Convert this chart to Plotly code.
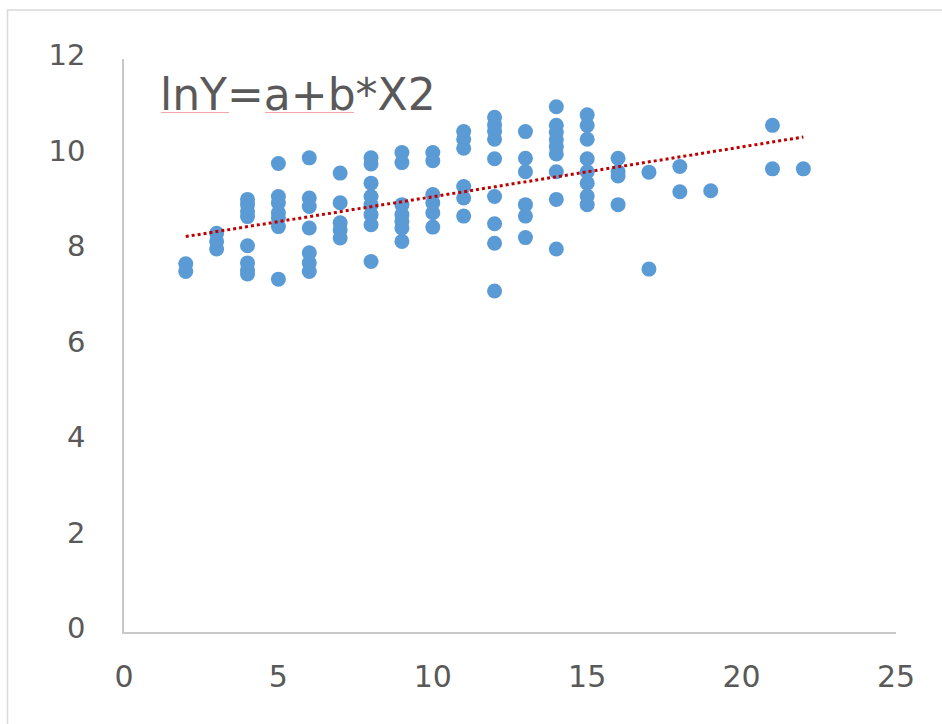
import numpy as np
import plotly.graph_objects as go

# Data (X2 vs lnY)
x2 = [2, 2,
      3, 3, 3,
      4, 4, 4, 4, 4, 4, 4, 4,
      5, 5, 5, 5, 5, 5, 5,
      6, 6, 6, 6, 6, 6, 6,
      7, 7, 7, 7, 7,
      8, 8, 8, 8, 8, 8, 8, 8,
      9, 9, 9, 9, 9, 9, 9,
      10, 10, 10, 10, 10, 10,
      11, 11, 11, 11, 11, 11,
      12, 12, 12, 12, 12, 12, 12, 12, 12,
      13, 13, 13, 13, 13, 13,
      14, 14, 14, 14, 14, 14, 14, 14, 14,
      15, 15, 15, 15, 15, 15, 15, 15,
      16, 16, 16, 16,
      17, 17,
      18, 18,
      19,
      21, 21,
      22]
lny = [7.71, 7.55,
       8.35, 8.18, 8.02,
       9.06, 8.95, 8.81, 8.70, 8.09, 7.73, 7.58, 7.50,
       9.81, 9.12, 8.99, 8.78, 8.67, 8.49, 7.39,
       9.93, 9.09, 8.91, 8.46, 7.94, 7.73, 7.55,
       9.61, 8.99, 8.57, 8.42, 8.25,
       9.93, 9.80, 9.40, 9.12, 8.95, 8.74, 8.53, 7.76,
       10.04, 9.83, 8.95, 8.74, 8.60, 8.46, 8.18,
       10.04, 9.87, 9.16, 8.99, 8.78, 8.48,
       10.48, 10.32, 10.13, 9.33, 9.09, 8.71,
       10.78, 10.62, 10.48, 10.32, 9.91, 9.12, 8.55, 8.14, 7.14,
       10.48, 9.92, 9.64, 8.95, 8.71, 8.26,
       11.00, 10.61, 10.46, 10.31, 10.16, 10.01, 9.64, 9.06, 8.02,
       10.83, 10.61, 10.32, 9.91, 9.64, 9.40, 9.13, 8.95,
       9.92, 9.64, 9.55, 8.95,
       9.63, 7.60,
       9.75, 9.22,
       9.24,
       10.61, 9.70,
       9.70]

x_ticks = [0, 5, 10, 15, 20, 25]
y_ticks = [0, 2, 4, 6, 8, 10, 12]
label_text = "lnY=a+b*X2"

# Linear trendline fitted from the data
b, a = np.polyfit(x2, lny, 1)
tx = [min(x2), max(x2)]
ty = [a + b * v for v in tx]

W, H = 942, 724
L, R, T, B = 124, 46, 59, 92
pw, ph = W - L - R, H - T - B

def px_to_paper(px, py):
    return (px - L) / pw, (H - B - py) / ph

fig = go.Figure()
fig.add_trace(go.Scatter(
    x=x2, y=lny, mode="markers",
    marker=dict(size=15, color="#5B9BD5", line=dict(width=0)),
    showlegend=False, hoverinfo="x+y"))
fig.add_trace(go.Scatter(
    x=tx, y=ty, mode="lines",
    line=dict(color="#C00000", width=3, dash="dot"),
    showlegend=False, hoverinfo="skip"))

axis_common = dict(
    showgrid=False, zeroline=False, showline=True,
    linecolor="#C8C8C8", linewidth=1.5, ticks="",
)
fig.update_xaxes(range=[0, 25], tickvals=x_ticks, ticklabelstandoff=17,
                 tickfont=dict(family="DejaVu Sans", size=30, color="#595959"),
                 **axis_common)
fig.update_yaxes(range=[0, 12], tickvals=y_ticks, ticklabelstandoff=31,
                 ticklabelshift=-4,
                 tickfont=dict(family="DejaVu Sans", size=29, color="#595959"),
                 **axis_common)

# outer chart frame
fx0, fy0 = px_to_paper(7.5, 10)
fx1, fy1 = px_to_paper(980, 760)
fig.add_shape(type="rect", xref="paper", yref="paper",
              x0=fx0, y0=fy1, x1=fx1, y1=fy0,
              line=dict(color="#D9D9D9", width=1.5), layer="below")

ax_, ay_ = px_to_paper(158, 95)
fig.add_annotation(text=label_text, xref="paper", yref="paper",
                   x=ax_, y=ay_, xanchor="left", yanchor="middle",
                   showarrow=False,
                   font=dict(family="DejaVu Sans", size=44, color="#595959"))
# spell-check underlines
for (sx0, sx1) in [(161, 229), (265, 354)]:
    ux0, uy = px_to_paper(sx0, 112.5)
    ux1, _ = px_to_paper(sx1, 112.5)
    fig.add_shape(type="line", xref="paper", yref="paper",
                  x0=ux0, x1=ux1, y0=uy, y1=uy,
                  line=dict(color="#F4A6A6", width=1))

fig.update_layout(
    width=W, height=H,
    margin=dict(l=L, r=R, t=T, b=B),
    paper_bgcolor="white", plot_bgcolor="white",
)
fig.write_html("out.html")
